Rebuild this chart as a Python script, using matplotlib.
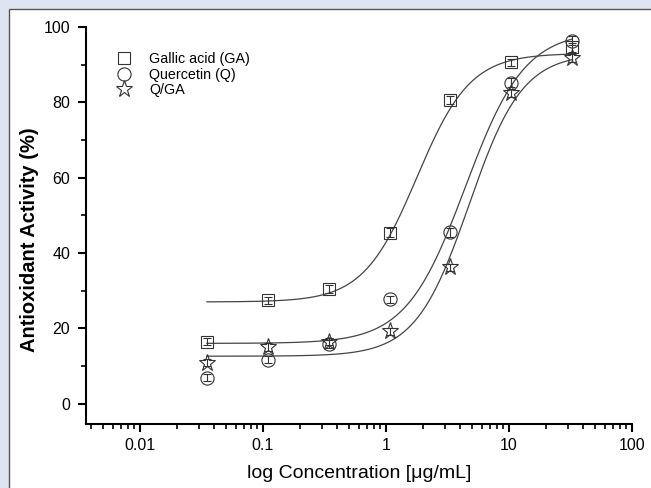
import numpy as np
import matplotlib
matplotlib.use("Agg")
import matplotlib.pyplot as plt
from matplotlib.patches import Rectangle
from matplotlib.ticker import FixedLocator, LogLocator, NullFormatter

plt.rcParams['font.family'] = ['Liberation Sans', 'DejaVu Sans']

# Data
conc = [0.035, 0.11, 0.345, 1.07, 3.33, 10.3, 32.5]
ga = [16.5, 27.4, 30.5, 45.4, 80.6, 90.6, 94.6]
q = [6.9, 11.7, 15.9, 27.7, 45.5, 85.2, 96.3]
qga = [10.9, 15.0, 16.5, 19.2, 36.2, 82.5, 91.7]
ga_err = [1.0, 1.0, 1.0, 1.2, 1.0, 1.0, 1.2]
q_err = [1.0, 1.0, 1.0, 1.0, 1.2, 1.2, 1.2]
qga_err = [1.0, 1.0, 1.0, 1.0, 1.0, 1.0, 1.0]

series_names = ["Gallic acid (GA)", "Quercetin (Q)", "Q/GA"]
series_markers = ["s", "o", "*"]

# Sigmoidal (4PL) fit parameters: bottom, top, log EC50, Hill slope
fit_bottom = [27.0, 16.0, 12.6]
fit_top = [93.0, 99.0, 93.0]
fit_logec50 = [0.25, 0.645, 0.675]
fit_hill = [2.0, 1.8, 2.0]

W, H = 651, 488
fig = plt.figure(figsize=(W / 100, H / 100), dpi=100)
fig.patch.set_facecolor('#dfe4f3')
panel = Rectangle((8.5 / W, -0.01), 1.0, 1 - 8.5 / H + 0.01, transform=fig.transFigure,
                  facecolor='white', edgecolor='#555555', linewidth=1.0, zorder=-10)
fig.patches.append(panel)

left, right, bottom, top = 86, 632, 424, 27
ax = fig.add_axes([left / W, 1 - bottom / H, (right - left) / W, (bottom - top) / H])
ax.set_facecolor('none')
ax.set_zorder(5)

edge = '#333333'
xs = np.logspace(np.log10(conc[0]), np.log10(conc[-1]), 300)
data = [(ga, ga_err), (q, q_err), (qga, qga_err)]
msizes = [8.5, 9.5, 12.5]
for i, ((ys, es), name, mk) in enumerate(zip(data, series_names, series_markers)):
    b, t, l, h = fit_bottom[i], fit_top[i], fit_logec50[i], fit_hill[i]
    fit = b + (t - b) / (1 + 10 ** ((l - np.log10(xs)) * h))
    ax.plot(xs, fit, color='#444444', lw=0.9, zorder=2)
    ax.errorbar(conc, ys, yerr=es, fmt='none', ecolor=edge, elinewidth=0.8,
                capsize=3, capthick=0.8, zorder=3)
    ax.plot(conc, ys, linestyle='none', marker=mk, markersize=msizes[i],
            markerfacecolor='none', markeredgecolor=edge, markeredgewidth=0.8,
            label=name, zorder=4)

ax.set_xscale('log')
ax.set_xlim(0.00364, 100)
ax.set_ylim(-5.4, 100)

ax.spines['top'].set_visible(False)
ax.spines['right'].set_visible(False)
for s in ['left', 'bottom']:
    ax.spines[s].set_linewidth(1.5)
    ax.spines[s].set_color('black')

ax.set_xticks([0.01, 0.1, 1, 10, 100])
ax.set_xticklabels(["0.01", "0.1", "1", "10", "100"])
ax.xaxis.set_minor_locator(LogLocator(base=10, subs=np.arange(2, 10)))
ax.xaxis.set_minor_formatter(NullFormatter())
ax.set_yticks([0, 20, 40, 60, 80, 100])
ax.yaxis.set_minor_locator(FixedLocator([10, 30, 50, 70, 90]))
ax.tick_params(axis='both', which='major', direction='out', length=6, width=1.5,
               labelsize=11.5)
ax.tick_params(axis='x', which='major', pad=4)
ax.tick_params(axis='y', which='major', pad=5.5)
ax.tick_params(axis='both', which='minor', direction='out', length=3.5, width=1.2)

ax.set_xlabel("log Concentration [\u03bcg/mL]", fontsize=14, labelpad=9)
ax.set_ylabel("Antioxidant Activity (%)", fontsize=14.5, fontweight='bold')
ax.yaxis.set_label_coords(-(left - 39) / (right - left), (bottom - 240) / (bottom - top))

leg = ax.legend(loc='upper left',
                bbox_to_anchor=((115 - left) / (right - left), (bottom - 52) / (bottom - top)),
                frameon=False, fontsize=10.3, handletextpad=1.2, labelspacing=0.12,
                handlelength=1.2, borderaxespad=0, borderpad=0)

fig.savefig('out.png', dpi=100, facecolor=fig.get_facecolor())
